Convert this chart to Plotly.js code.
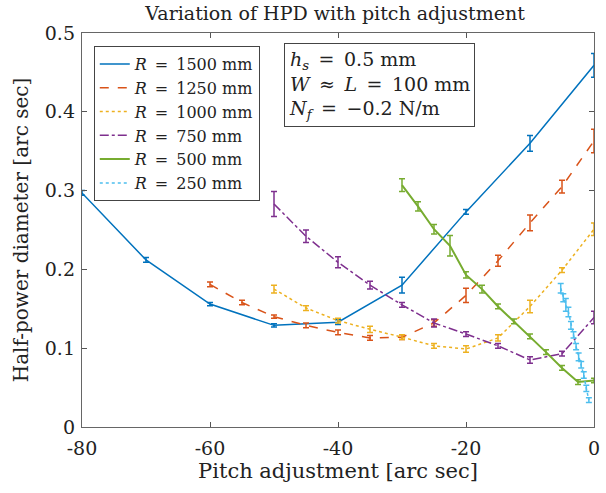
<!DOCTYPE html>
<html>
<head>
<meta charset="utf-8">
<script src="https://cdn.plot.ly/plotly-3.0.1.min.js"></script>
<style>html,body{margin:0;padding:0;background:#fff;}#chart{width:606px;height:493px;}</style>
</head>
<body>
<div id="chart"></div>
<script>
// R = 1500 mm
const x1500 = [-80, -70, -60, -50, -40, -30, -20, -10, 0];
const y1500 = [0.297, 0.212, 0.156, 0.129, 0.133, 0.180, 0.273, 0.360, 0.459];
const e1500 = [0.003, 0.003, 0.002, 0.002, 0.003, 0.010, 0.003, 0.010, 0.015];
// R = 1250 mm
const x1250 = [-60, -55, -50, -45, -40, -35, -30, -25, -20, -15, -10, -5, 0];
const y1250 = [0.181, 0.158, 0.140, 0.129, 0.120, 0.113, 0.114, 0.132, 0.167, 0.211, 0.259, 0.305, 0.363];
const e1250 = [0.003, 0.003, 0.002, 0.003, 0.003, 0.003, 0.003, 0.004, 0.009, 0.007, 0.010, 0.008, 0.015];
// R = 1000 mm
const x1000 = [-50, -45, -40, -35, -30, -25, -20, -15, -10, -5, 0];
const y1000 = [0.175, 0.151, 0.135, 0.124, 0.114, 0.103, 0.099, 0.113, 0.153, 0.199, 0.251];
const e1000 = [0.005, 0.003, 0.003, 0.004, 0.003, 0.003, 0.004, 0.004, 0.008, 0.003, 0.008];
// R = 750 mm
const x750 = [-50, -45, -40, -35, -30, -25, -20, -15, -10, -5, 0];
const y750 = [0.283, 0.242, 0.209, 0.180, 0.155, 0.132, 0.118, 0.103, 0.085, 0.093, 0.139];
const e750 = [0.016, 0.008, 0.007, 0.005, 0.003, 0.005, 0.003, 0.003, 0.004, 0.003, 0.008];
// R = 500 mm
const x500 = [-30, -27.5, -25, -22.5, -20, -17.5, -15, -12.5, -10, -7.5, -5, -2.5, 0];
const y500 = [0.307, 0.280, 0.251, 0.230, 0.193, 0.175, 0.153, 0.134, 0.115, 0.095, 0.075, 0.057, 0.059];
const e500 = [0.008, 0.006, 0.006, 0.013, 0.004, 0.005, 0.003, 0.003, 0.003, 0.003, 0.003, 0.003, 0.003];
// R = 250 mm
const x250 = [-5.2, -4.8, -4.4, -4.0, -3.6, -3.2, -2.8, -2.4, -2.0, -1.6, -1.2, -0.8];
const y250 = [0.176, 0.164, 0.155, 0.146, 0.129, 0.117, 0.102, 0.089, 0.079, 0.066, 0.049, 0.034];
const e250 = [0.006, 0.005, 0.008, 0.006, 0.005, 0.004, 0.004, 0.005, 0.004, 0.004, 0.004, 0.003];

const names = ['1500', '1250', '1000', '750', '500', '250'];
const xs = [x1500, x1250, x1000, x750, x500, x250];
const ys = [y1500, y1250, y1000, y750, y500, y250];
const es = [e1500, e1250, e1000, e750, e500, e250];
const colors = ['#0072BD', '#D95319', '#EDB120', '#7E2F8E', '#77AC30', '#4DBEEE'];
const dashes = ['solid', 'dash', 'dot', 'dashdot', 'solid', 'dot'];
const widths = [1.5, 1.5, 1.5, 1.5, 2, 1.5];

const sp = '\u2002';
const traces = names.map((n, i) => ({
  x: xs[i], y: ys[i], type: 'scatter', mode: 'lines',
  name: '<i>R</i>' + sp + '=' + sp + n + ' mm',
  line: {color: colors[i], dash: dashes[i], width: widths[i]},
  error_y: {type: 'data', array: es[i], visible: true, color: colors[i], thickness: 1.5, width: 3}
}));

const font = 'DejaVu Serif';
const layout = {
  width: 606, height: 493,
  margin: {l: 82, r: 12, t: 33, b: 66},
  paper_bgcolor: '#fff', plot_bgcolor: '#fff',
  font: {family: font, color: '#222', size: 19},
  title: {text: 'Variation of HPD with pitch adjustment', font: {family: font, size: 19, color: '#222'},
          x: 0.553, xanchor: 'center', y: 0.972, yanchor: 'middle'},
  xaxis: {range: [-80, 0], tickvals: [-80, -60, -40, -20, 0], ticktext: ['-80', '-60', '-40', '-20', '0'],
          ticks: 'inside', ticklen: 5, tickcolor: '#555', showline: true, linecolor: '#666', linewidth: 1.2,
          mirror: 'ticks', showgrid: false, zeroline: false, ticklabelstandoff: 4,
          tickfont: {family: font, size: 19, color: '#222'},
          title: {text: 'Pitch adjustment [arc sec]', font: {family: font, size: 21, color: '#222'}, standoff: 2}},
  yaxis: {range: [0, 0.5], tickvals: [0, 0.1, 0.2, 0.3, 0.4, 0.5], ticktext: ['0', '0.1', '0.2', '0.3', '0.4', '0.5'],
          ticks: 'inside', ticklen: 5, tickcolor: '#555', showline: true, linecolor: '#666', linewidth: 1.2,
          mirror: 'ticks', showgrid: false, zeroline: false, ticklabelstandoff: 2,
          tickfont: {family: font, size: 19, color: '#222'},
          title: {text: 'Half-power diameter [arc sec]', font: {family: font, size: 20, color: '#222'}, standoff: 10}},
  legend: {x: 0.023, y: 0.967, xanchor: 'left', yanchor: 'top', bgcolor: '#fff',
           bordercolor: '#444', borderwidth: 1, font: {family: font, size: 16, color: '#222'},
           tracegroupgap: 0, itemwidth: 30},
  showlegend: true,
  annotations: [{
    xref: 'paper', yref: 'paper', x: 0.395, y: 0.975, xanchor: 'left', yanchor: 'top',
    align: 'left', showarrow: false,
    text: '<i>h</i><sub><i>s</i></sub>' + sp + '=' + sp + '0.5 mm<br><i>W</i>' + sp + '≈' + sp + '<i>L</i>' + sp + '=' + sp + '100 mm<br><i>N</i><sub><i>f</i></sub>' + sp + '=' + sp + '−0.2 N/m',
    font: {family: font, size: 19, color: '#222'},
    bordercolor: '#444', borderwidth: 1, borderpad: 4, bgcolor: '#fff'
  }]
};
Plotly.newPlot('chart', traces, layout, {displayModeBar: false, staticPlot: true});
</script>
</body>
</html>
